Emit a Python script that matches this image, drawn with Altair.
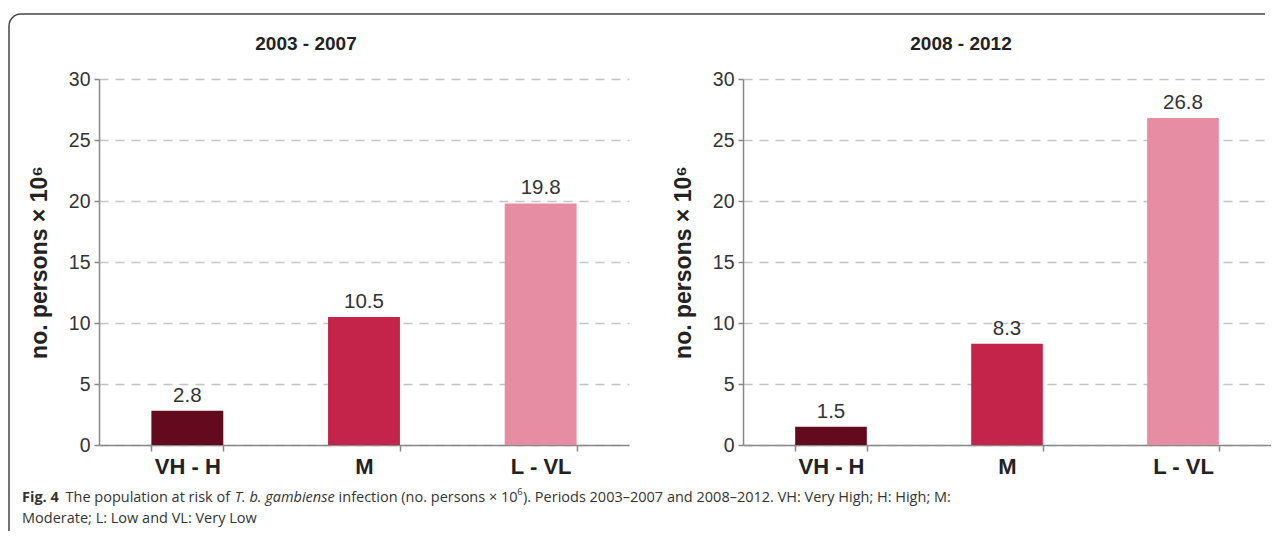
import altair as alt
import pandas as pd

# ---------------- data ----------------
categories = ["VH - H", "M", "L - VL"]
values_2003_2007 = [2.8, 10.5, 19.8]
values_2008_2012 = [1.5, 8.3, 26.8]
bar_colors = ["#630A1E", "#C42449", "#E78DA3"]
period_titles = ["2003 - 2007", "2008 - 2012"]
y_ticks = [0, 5, 10, 15, 20, 25, 30]
y_title = "no. persons × 10⁶"

caption_line1 = [
    ("Fig. 4", "normal", "bold"),
    ("The population at risk of", "normal", "normal"),
    ("T. b. gambiense", "italic", "normal"),
    ("infection (no. persons × 10", "normal", "normal"),
    ("6", "normal", "normal"),
    ("). Periods 2003–2007 and 2008–2012. VH: Very High; H: High; M:", "normal", "normal"),
]
caption_line2 = "Moderate; L: Low and VL: Very Low"

FONT = "Liberation Sans"
CAP_FONT = "Open Sans"
W_LEFT, W_RIGHT, H = 530, 528, 366

one = alt.Data(values=[{}])


def panel(values, title, width, title_x):
    df = pd.DataFrame({"cat": categories, "val": values, "color": bar_colors})
    x = alt.X(
        "cat:N",
        sort=categories,
        scale=alt.Scale(paddingInner=0.593, paddingOuter=0.2965),
        axis=alt.Axis(
            title=None, labelAngle=0, labelFont=FONT, labelFontSize=22,
            labelFontWeight="bold", labelColor="#222", domainColor="#888",
            domainWidth=1.5, tickColor="#888", tickWidth=1.5, tickSize=6,
            tickBand="extent", labelPadding=5, grid=False,
        ),
    )
    y = alt.Y(
        "val:Q",
        scale=alt.Scale(domain=[0, 30], nice=False),
        axis=alt.Axis(
            values=y_ticks, title=y_title, grid=True, gridDash=[9, 7],
            gridColor="#c4c4c4", gridWidth=1.5, domainColor="#888",
            domainWidth=1.5, tickColor="#888", tickWidth=1.5, tickSize=5,
            labelFont=FONT, labelFontSize=19.5, labelColor="#333", labelPadding=4,
            titleFont=FONT, titleFontSize=23, titleFontWeight="bold",
            titleColor="#222", titleX=-60, titleY=H / 2, titleAngle=-90,
            titleAlign="center", titleBaseline="middle",
        ),
    )
    base = alt.Chart(df)
    bars = base.mark_bar().encode(x=x, y=y, color=alt.Color("color:N", scale=None))
    labels = base.mark_text(
        baseline="bottom", dy=-5, font=FONT, fontSize=20.5, color="#333"
    ).encode(x=x, y=y, text=alt.Text("val:Q", format=".1f"))
    head = alt.Chart(one).mark_text(
        font=FONT, fontSize=19, fontWeight="bold", color="#222",
        align="center", baseline="middle",
    ).encode(x=alt.value(title_x), y=alt.value(-35), text=alt.value(title))
    return [bars, labels, head]


# frame (top + left edges with rounded corner) and caption, as decorations
top_rule = alt.Chart(one).mark_rule(color="#444", strokeWidth=1.5).encode(
    x=alt.value(-78), x2=alt.value(1166), y=alt.value(-65)
)
left_rule = alt.Chart(one).mark_rule(color="#444", strokeWidth=1.5).encode(
    x=alt.value(-90), y=alt.value(-53), y2=alt.value(452)
)
corner = alt.Chart(one).mark_arc(color="#444").encode(
    x=alt.value(-78), y=alt.value(-53), radius=alt.value(12.75),
    radius2=alt.value(11.25), theta=alt.value(4.7124), theta2=alt.value(6.2832)
)

# caption segments (x offsets estimated from font metrics at 14.5px)
cap_x = [-77, -33.5, 135.8, 239.6, 418.2, 424.0]
cap_layers = []
for (txt, style, weight), cx in zip(caption_line1, cap_x):
    sup = txt == "6"
    cap_layers.append(
        alt.Chart(one).mark_text(
            align="left", baseline="alphabetic", font=CAP_FONT,
            fontSize=9.5 if sup else 14.5, fontStyle=style, fontWeight=weight,
            color="#333",
        ).encode(x=alt.value(cx), y=alt.value(416 if sup else 423), text=alt.value(txt))
    )
cap_layers.append(
    alt.Chart(one).mark_text(
        align="left", baseline="alphabetic", font=CAP_FONT, fontSize=14.5, color="#333"
    ).encode(x=alt.value(-77), y=alt.value(444), text=alt.value(caption_line2))
)

left = alt.layer(
    *panel(values_2003_2007, period_titles[0], W_LEFT, 207),
    top_rule, left_rule, corner, *cap_layers
).properties(width=W_LEFT, height=H)
right = alt.layer(*panel(values_2008_2012, period_titles[1], W_RIGHT, 218)).properties(
    width=W_RIGHT, height=H
)

chart = alt.hconcat(left, right, spacing=114, bounds="flush").properties(
    padding={"left": 0, "top": 5, "right": 0, "bottom": 0}
).configure(background="white").configure_view(stroke=None)

chart.save("out.html", embed_options={"renderer": "svg", "actions": False})
